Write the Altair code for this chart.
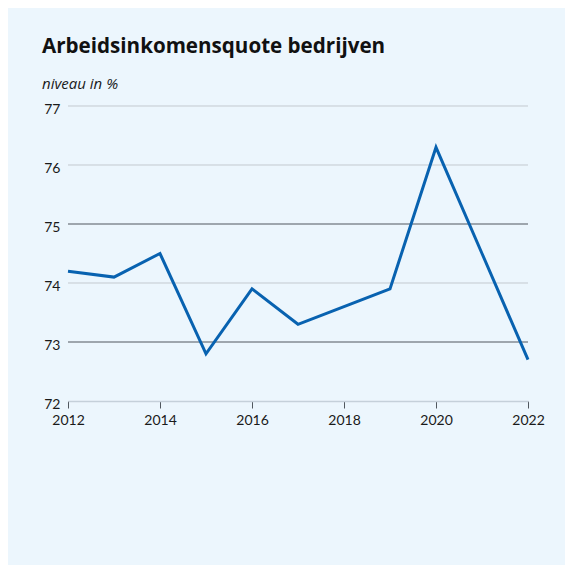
import altair as alt
import pandas as pd

years = [2012, 2013, 2014, 2015, 2016, 2017, 2018, 2019, 2020, 2021, 2022]
values = [74.2, 74.1, 74.5, 72.8, 73.9, 73.3, 73.6, 73.9, 76.3, 74.5, 72.7]

grid_levels = [73, 74, 75, 76, 77]
grid_colors = ["#50575e", "#c3c9cf", "#50575e", "#c3c9cf", "#c3c9cf"]

x_ticks = [2012, 2014, 2016, 2018, 2020, 2022]
y_ticks = [72, 73, 74, 75, 76, 77]

df = pd.DataFrame({"jaar": years, "waarde": values})
grid_df = pd.DataFrame({"niveau": grid_levels, "kleur": grid_colors})

FONT = "Lato"
TFONT = "Open Sans"
PANEL = "#ecf6fd"

panel = alt.Chart(alt.Data(values=[{}])).mark_rect(color=PANEL).encode(
    x=alt.value(-60), x2=alt.value(497), y=alt.value(-98), y2=alt.value(459)
)

grid = alt.Chart(grid_df).mark_rule(strokeWidth=1).encode(
    y=alt.Y("niveau:Q"),
    color=alt.Color("kleur:N", scale=None),
)

line = alt.Chart(df).mark_line(color="#0862b0", strokeWidth=3, strokeJoin="miter").encode(
    x=alt.X(
        "jaar:Q",
        scale=alt.Scale(domain=[2012, 2022], nice=False, zero=False),
        axis=alt.Axis(
            values=x_ticks, format="d", title=None, grid=False,
            domainColor="#c5d0da", domainWidth=1.5,
            tickColor="#50575e", tickSize=7, tickWidth=1,
            labelFont=FONT, labelFontSize=14, labelColor="#1a1a1a",
            labelPadding=5, labelFlush=False, zindex=1,
        ),
    ),
    y=alt.Y(
        "waarde:Q",
        scale=alt.Scale(domain=[72, 77], nice=False, zero=False),
        axis=alt.Axis(
            values=y_ticks, format="d", title=None, grid=False, domain=False, ticks=False,
            labelFont=FONT, labelFontSize=14, labelColor="#1a1a1a",
            labelPadding=8, labelOffset=3, zindex=1,
        ),
    ),
)

chart = alt.layer(panel, grid, line).properties(
    width=460,
    height=295,
    autosize="none",
    padding={"left": 68, "top": 106, "right": 43, "bottom": 169},
    background="white",
    title=alt.Title(
        "Arbeidsinkomensquote bedrijven",
        subtitle="niveau in %",
        anchor="start",
        dx=34,
        dy=96,
        font=TFONT, fontSize=20.6, fontWeight="bold", color="#111111",
        subtitleFont=TFONT, subtitleFontSize=15, subtitleFontStyle="italic",
        subtitleColor="#1a1a1a", subtitlePadding=19, offset=12,
    ),
).configure_view(stroke=None)

chart.save("out.html", embed_options={"renderer": "svg", "actions": False})
